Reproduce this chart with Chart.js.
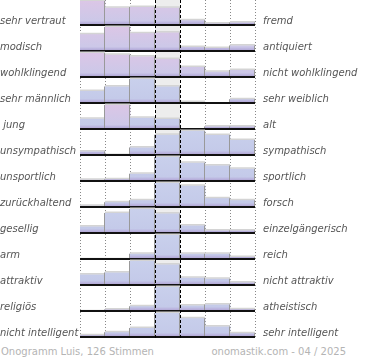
<!DOCTYPE html>
<html><head><meta charset="utf-8">
<script src="https://cdn.jsdelivr.net/npm/chart.js@4/dist/chart.umd.min.js"></script>
<style>
html,body{margin:0;padding:0;background:#fff;}
#wrap{position:relative;width:370px;height:360px;overflow:hidden;}
#box{position:absolute;left:0;top:0;width:370px;height:338px;}
.foot{position:absolute;top:346px;font:10px "DejaVu Sans",sans-serif;color:#b4b4b4;white-space:nowrap;line-height:12px;}
</style></head><body>
<div id="wrap">
<div id="box"><canvas id="c"></canvas></div>
<div class="foot" style="left:1px">Onogramm Luis, 126 Stimmen</div>
<div class="foot" style="right:24px">onomastik.com - 04 / 2025</div>
</div>
<script>
// ---- data ----
const columns = ['1','2','3','4','5','6','7'];
const leftLabels = ['sehr vertraut','modisch','wohlklingend','sehr männlich',' jung','unsympathisch','unsportlich','zurückhaltend','gesellig','arm','attraktiv','religiös','nicht intelligent'];
const rightLabels = ['fremd','antiquiert','nicht wohlklingend','sehr weiblich','alt','sympathisch','sportlich','forsch','einzelgängerisch','reich','nicht attraktiv','atheistisch','sehr intelligent'];
const vertraut     = [100, 73, 76, 73, 23, 10, 14];
const modisch      = [71, 100, 75, 78, 20, 16, 26];
const wohlklingend = [100, 93, 86, 76, 44, 25, 32];
const maennlich    = [52, 70, 100, 70, 8, 2, 19];
const jung         = [45, 100, 49, 44, 2, 14, 14];
const sympathisch  = [18, 4, 34, 85, 100, 84, 64];
const sportlich    = [9, 11, 33, 100, 77, 66, 53];
const forsch       = [9, 23, 31, 100, 89, 39, 31];
const gesellig     = [30, 84, 100, 82, 34, 14, 14];
const reich        = [3, 3, 25, 100, 25, 25, 12];
const attraktiv    = [46, 54, 100, 86, 33, 29, 14];
const religioes    = [3, 10, 23, 100, 26, 30, 11];
const intelligent  = [11, 23, 40, 100, 79, 46, 19];
const rows = [vertraut, modisch, wohlklingend, maennlich, jung, sympathisch, sportlich, forsch, gesellig, reich, attraktiv, religioes, intelligent];

// ---- styling ----
const pinkish = (r, c) => r < 3 || (r === 4 && c === 1);
function barFill(ctx) {
  const chart = ctx.chart;
  if (!chart.chartArea) return '#c6cbe8';
  const s = chart.scales['r' + ctx.datasetIndex];
  const g = chart.ctx.createLinearGradient(0, s.top, 0, s.bottom);
  if (pinkish(ctx.datasetIndex, ctx.dataIndex)) {
    g.addColorStop(0, '#dcc6e6'); g.addColorStop(0.8, '#ccc8e8');
  } else {
    g.addColorStop(0, '#c9d0ec'); g.addColorStop(0.8, '#c4cae9');
  }
  g.addColorStop(0.88, '#bab3de'); g.addColorStop(1, '#a898ca');
  return g;
}

const noPad = s => { s.paddingTop = 0; s.paddingBottom = 0; };
const scales = {
  x: { type: 'category', labels: columns, display: false, offset: true },
  yl: { type: 'category', labels: leftLabels, position: 'left', offset: true,
        grid: { display: false, drawTicks: false }, border: { display: false },
        ticks: { font: { family: 'DejaVu Sans', size: 10, style: 'italic' }, color: '#555', crossAlign: 'far', padding: 0, labelOffset: 8, autoSkip: false },
        afterFit: s => { s.width = 80; noPad(s); } },
  yr: { type: 'category', labels: rightLabels, position: 'right', offset: true,
        grid: { display: false, drawTicks: false }, border: { display: false },
        ticks: { font: { family: 'DejaVu Sans', size: 10, style: 'italic' }, color: '#555', crossAlign: 'near', padding: 8, labelOffset: 8, autoSkip: false },
        afterFit: s => { s.width = 115; noPad(s); } }
};
rows.forEach((d, i) => {
  scales['r' + i] = { type: 'linear', display: false, min: 0, max: 104, stack: 'rows', stackWeight: 1, position: 'right', afterFit: noPad };
});

const decor = {
  id: 'decor',
  beforeDatasetsDraw(chart) {
    const { ctx, chartArea: a, scales: { x } } = chart;
    const half = (x.getPixelForValue(1) - x.getPixelForValue(0)) / 2;
    ctx.save();
    ctx.fillStyle = '#ededed';
    ctx.fillRect(x.getPixelForValue(3) - half, a.top, 2 * half, a.bottom - a.top);
    ctx.strokeStyle = '#888'; ctx.lineWidth = 1; ctx.setLineDash([1, 2]);
    for (let i = 0; i <= columns.length; i++) {
      if (i === 3 || i === 4) continue;
      const px = Math.round(x.getPixelForValue(i) - half) + 0.5;
      ctx.beginPath(); ctx.moveTo(px, a.top); ctx.lineTo(px, a.bottom); ctx.stroke();
    }
    ctx.restore();
  },
  afterDatasetsDraw(chart) {
    const { ctx, chartArea: a, scales: { x } } = chart;
    const half = (x.getPixelForValue(1) - x.getPixelForValue(0)) / 2;
    ctx.save();
    chart.data.datasets.forEach((ds, di) => {
      const bars = chart.getDatasetMeta(di).data;
      ctx.strokeStyle = '#d4d4d4'; ctx.lineWidth = 1.5;
      bars.forEach(b => {
        ctx.beginPath(); ctx.moveTo(b.x - b.width / 2, b.y - 0.75); ctx.lineTo(b.x + b.width / 2, b.y - 0.75); ctx.stroke();
      });
      ctx.strokeStyle = '#999'; ctx.lineWidth = 1;
      bars.forEach((b, i) => {
        const top = i < bars.length - 1 ? Math.min(b.y, bars[i + 1].y) : b.y;
        const px = Math.round(b.x + b.width / 2) - 0.5;
        ctx.beginPath(); ctx.moveTo(px, b.base); ctx.lineTo(px, top); ctx.stroke();
      });
      const s = chart.scales['r' + di];
      const y = s.getPixelForValue(0) - 1;
      ctx.strokeStyle = '#111'; ctx.lineWidth = 2;
      ctx.beginPath(); ctx.moveTo(a.left, y); ctx.lineTo(a.right, y); ctx.stroke();
    });
    ctx.strokeStyle = '#000'; ctx.lineWidth = 1; ctx.setLineDash([3, 2]);
    [3, 4].forEach(i => {
      const px = Math.round(x.getPixelForValue(i) - half) + 0.5;
      ctx.beginPath(); ctx.moveTo(px, a.top); ctx.lineTo(px, a.bottom); ctx.stroke();
    });
    ctx.restore();
  }
};

new Chart(document.getElementById('c'), {
  type: 'bar',
  data: {
    labels: columns,
    datasets: rows.map((d, i) => ({
      data: d, xAxisID: 'x', yAxisID: 'r' + i,
      backgroundColor: barFill, borderWidth: 0, grouped: false,
      barPercentage: 1, categoryPercentage: 1
    }))
  },
  options: {
    responsive: true, maintainAspectRatio: false, animation: false,
    layout: { padding: 0 },
    plugins: { legend: { display: false }, tooltip: { enabled: false } },
    scales
  },
  plugins: [decor]
});
</script>
</body></html>
